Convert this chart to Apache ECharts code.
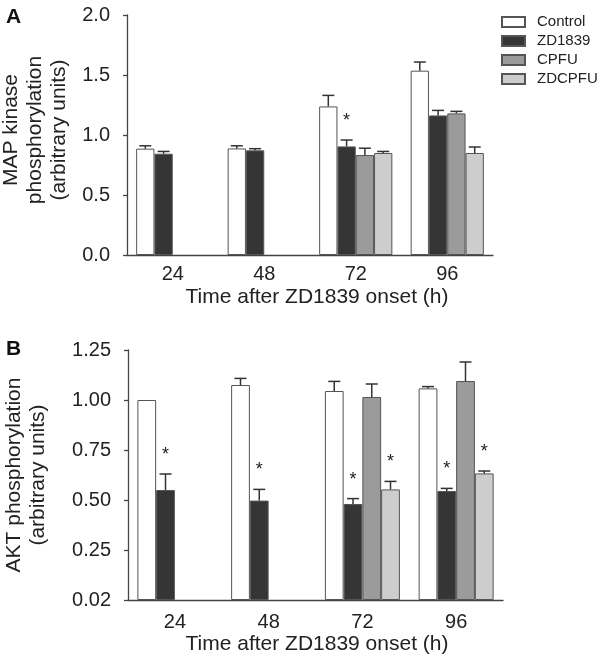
<!DOCTYPE html>
<html><head><meta charset="utf-8">
<script src="https://cdn.jsdelivr.net/npm/echarts@6/dist/echarts.min.js"></script>
<style>html,body{margin:0;padding:0;background:#fff}#c{width:600px;height:657px}</style>
</head><body><div id="c"></div>
<script>
// ---- data ----
const categories = ['24', '48', '72', '96'];
const groupNames = ['Control', 'ZD1839', 'CPFU', 'ZDCPFU'];

// Panel A: MAP kinase phosphorylation (mean, SEM, significance)
const mapkControl = [0.886, 0.888, 1.238, 1.536];
const mapkControlSem = [0.024, 0.022, 0.092, 0.072];
const mapkZD1839 = [0.844, 0.872, 0.905, 1.163];
const mapkZD1839Sem = [0.019, 0.014, 0.053, 0.042];
const mapkCPFU = [null, null, 0.833, 1.180];
const mapkCPFUSem = [null, null, 0.057, 0.017];
const mapkZDCPFU = [null, null, 0.850, 0.850];
const mapkZDCPFUSem = [null, null, 0.013, 0.050];
const mapkStars = [[0, 0, 0, 0], [0, 0, 1, 0], [0, 0, 0, 0], [0, 0, 0, 0]];
const mapkTickLabels = ['0.0', '0.5', '1.0', '1.5', '2.0'];

// Panel B: AKT phosphorylation
const aktControl = [1.000, 1.075, 1.045, 1.058];
const aktControlSem = [0, 0.033, 0.048, 0.009];
const aktZD1839 = [0.550, 0.497, 0.480, 0.545];
const aktZD1839Sem = [0.080, 0.056, 0.027, 0.013];
const aktCPFU = [null, null, 1.015, 1.095];
const aktCPFUSem = [null, null, 0.065, 0.095];
const aktZDCPFU = [null, null, 0.553, 0.633];
const aktZDCPFUSem = [null, null, 0.040, 0.012];
const aktStars = [[0, 0, 0, 0], [1, 1, 1, 1], [0, 0, 0, 0], [0, 0, 1, 1]];
const aktTickLabels = ['0.02', '0.25', '0.50', '0.75', '1.00', '1.25'];

// ---- styles ----
const FONT = '"Liberation Sans", Arial, Helvetica, sans-serif';
const TXT = '#222';
const AXIS = '#444';
const fills = ['#ffffff', '#353535', '#9b9b9b', '#cdcdcd'];
const GAP = 0.2;

const mapkVals = [mapkControl, mapkZD1839, mapkCPFU, mapkZDCPFU];
const mapkSems = [mapkControlSem, mapkZD1839Sem, mapkCPFUSem, mapkZDCPFUSem];
const aktVals = [aktControl, aktZD1839, aktCPFU, aktZDCPFU];
const aktSems = [aktControlSem, aktZD1839Sem, aktCPFUSem, aktZDCPFUSem];

function errData(vals, sems, stars) {
  const out = [];
  vals.forEach((arr, s) => arr.forEach((v, c) => {
    if (v == null) return;
    out.push([c, s, v, v + (sems[s][c] || 0), stars[s][c]]);
  }));
  return out;
}

function errRender(params, api) {
  const c = api.value(0), s = api.value(1), v = api.value(2), top = api.value(3), star = api.value(4);
  const base = api.coord([c, 0]);
  const band = api.size([1, 0])[0];
  const bw = band * (1 - GAP) / 4;
  const x = base[0] - band * (1 - GAP) / 2 + (s + 0.5) * bw;
  const y0 = api.coord([c, v])[1];
  const y1 = api.coord([c, top])[1];
  const children = [];
  const ls = { stroke: '#333', lineWidth: 1.5 };
  if (top > v) {
    children.push({ type: 'line', shape: { x1: x, y1: y0, x2: x, y2: y1 }, style: ls });
    children.push({ type: 'line', shape: { x1: x - 6, y1: y1, x2: x + 6, y2: y1 }, style: ls });
  }
  if (star) {
    children.push({ type: 'text', x: x, y: y1 - 19,
      style: { text: '*', fontSize: 18, fontFamily: FONT, fill: TXT, align: 'center', verticalAlign: 'middle' } });
  }
  return { type: 'group', children };
}

function barSeries(vals, axisIdx) {
  return vals.map((arr, s) => ({
    type: 'bar', name: groupNames[s], xAxisIndex: axisIdx, yAxisIndex: axisIdx,
    data: arr, barGap: '0%', barCategoryGap: (GAP * 100) + '%',
    itemStyle: { color: fills[s], borderColor: '#555', borderWidth: 1 },
    emphasis: { disabled: true }, z: 2
  }));
}

const xAxisBase = (idx, margin, nameGap, padLeft) => ({
  type: 'category', gridIndex: idx, data: categories,
  axisLine: { lineStyle: { color: AXIS, width: 1.3 } },
  axisTick: { show: false },
  axisLabel: { color: TXT, fontSize: 20, fontFamily: FONT, margin: margin, lineHeight: 20 },
  name: 'Time after ZD1839 onset (h)', nameLocation: 'middle', nameGap: nameGap,
  nameTextStyle: { color: TXT, fontSize: 21, fontFamily: FONT, lineHeight: 21, padding: [0, 0, 0, padLeft] }
});

const option = {
  animation: false,
  backgroundColor: '#fff',
  textStyle: { fontFamily: FONT },
  grid: [
    { left: 127, top: 15, width: 366, height: 240, containLabel: false, outerBoundsMode: 'none' },
    { left: 128, top: 350, width: 375, height: 250, containLabel: false, outerBoundsMode: 'none' }
  ],
  legend: {
    data: groupNames, orient: 'vertical', left: 501, top: 14, padding: 0,
    itemWidth: 23, itemHeight: 10, itemGap: 3, icon: 'rect', selectedMode: false,
    textStyle: { color: TXT, fontSize: 15, fontFamily: FONT, lineHeight: 16, padding: [0, 0, 0, 7] }
  },
  xAxis: [xAxisBase(0, 9, 32, 14), xAxisBase(1, 12, 34, 3)],
  yAxis: [
    {
      type: 'value', gridIndex: 0, min: 0, max: 2, interval: 0.5,
      axisLine: { show: true, lineStyle: { color: AXIS, width: 1.3 } },
      axisTick: { show: true, length: 4, lineStyle: { color: AXIS, width: 1.3 } },
      splitLine: { show: false },
      axisLabel: { color: TXT, fontSize: 20, fontFamily: FONT, margin: 17,
        formatter: (v) => mapkTickLabels[Math.round(v / 0.5)] },
      name: 'MAP kinase\nphosphorylation\n(arbitrary units)', nameLocation: 'middle', nameRotate: 90, nameGap: 50,
      nameTextStyle: { color: TXT, fontSize: 21, fontFamily: FONT, lineHeight: 24, padding: [0, 0, 0, 10] }
    },
    {
      type: 'value', gridIndex: 1, min: 0, max: 1.25, interval: 0.25,
      axisLine: { show: true, lineStyle: { color: AXIS, width: 1.3 } },
      axisTick: { show: true, length: 4, lineStyle: { color: AXIS, width: 1.3 } },
      splitLine: { show: false },
      axisLabel: { color: TXT, fontSize: 20, fontFamily: FONT, margin: 17,
        formatter: (v) => aktTickLabels[Math.round(v / 0.25)] },
      name: 'AKT phosphorylation\n(arbitrary units)', nameLocation: 'middle', nameRotate: 90, nameGap: 78,
      nameTextStyle: { color: TXT, fontSize: 21, fontFamily: FONT, lineHeight: 24 }
    }
  ],
  graphic: [
    { type: 'text', left: 6, top: 7, style: { text: 'A', fontSize: 21, fontWeight: 'bold', fontFamily: FONT, fill: '#111' } },
    { type: 'text', left: 6, top: 339, style: { text: 'B', fontSize: 21, fontWeight: 'bold', fontFamily: FONT, fill: '#111' } }
  ],
  series: [
    ...barSeries(mapkVals, 0),
    ...barSeries(aktVals, 1),
    { type: 'custom', xAxisIndex: 0, yAxisIndex: 0, renderItem: errRender, z: 5,
      data: errData(mapkVals, mapkSems, mapkStars), encode: { x: 0, y: 3 }, silent: true },
    { type: 'custom', xAxisIndex: 1, yAxisIndex: 1, renderItem: errRender, z: 5,
      data: errData(aktVals, aktSems, aktStars), encode: { x: 0, y: 3 }, silent: true }
  ]
};

const chart = echarts.init(document.getElementById('c'), null, { renderer: 'canvas' });
chart.setOption(option);
</script>
</body></html>
